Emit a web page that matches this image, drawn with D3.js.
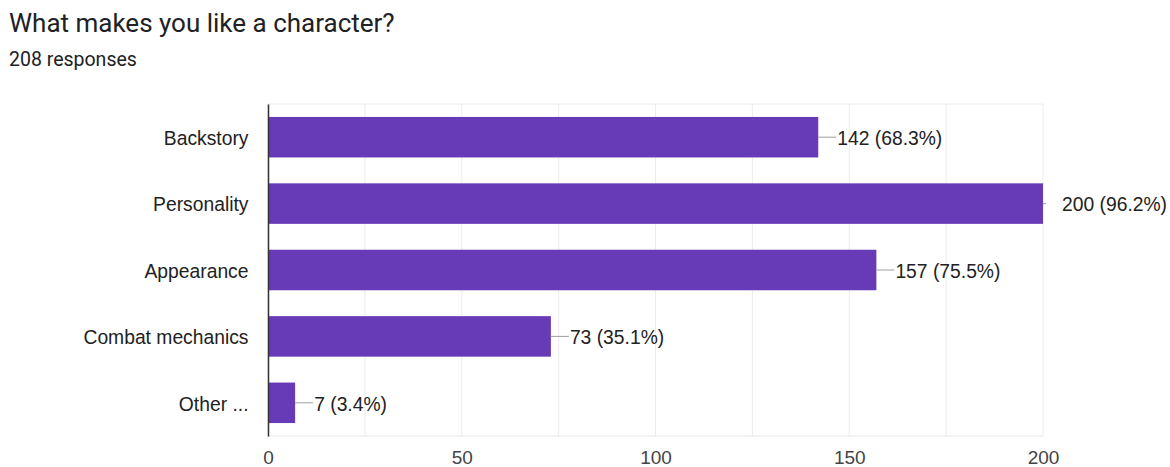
<!DOCTYPE html>
<html>
<head>
<meta charset="utf-8">
<script src="https://cdn.jsdelivr.net/npm/d3@7"></script>
<style>
  html, body { margin: 0; padding: 0; background: #fff; }
  svg { display: block; }
</style>
</head>
<body>
<svg id="chart" width="1170" height="467"></svg>
<script>
const categories = ["Backstory", "Personality", "Appearance", "Combat mechanics", "Other ..."];
const counts = [142, 200, 157, 73, 7];
const percents = ["68.3%", "96.2%", "75.5%", "35.1%", "3.4%"];
const xTicks = [0, 50, 100, 150, 200];
const xMinorTicks = [25, 75, 125, 175];

const svg = d3.select("#chart");
const W = 1170, H = 467;
const margin = { top: 104, right: 127, bottom: 31, left: 268 };
const innerW = W - margin.left - margin.right;
const innerH = H - margin.top - margin.bottom;
const labelFont = "'Liberation Sans', Arial, sans-serif";

// Heading
svg.append("text")
  .attr("x", 9).attr("y", 32)
  .attr("font-family", "Roboto, 'Open Sans', sans-serif")
  .attr("font-size", 26).attr("fill", "#202124")
  .text("What makes you like a character?");
svg.append("text")
  .attr("x", 9).attr("y", 65.5)
  .attr("font-family", "Roboto, 'Open Sans', sans-serif")
  .attr("font-size", 19.5).attr("fill", "#202124")
  .text("208 responses");

const x = d3.scaleLinear().domain([0, 200]).range([0, innerW]);
const y = d3.scaleBand().domain(categories).range([0, innerH]).paddingInner(0.39).paddingOuter(0.195);

const g = svg.append("g").attr("transform", `translate(${margin.left},${margin.top})`);

// Gridlines
g.selectAll(".grid")
  .data(xTicks.concat(xMinorTicks))
  .join("line")
  .attr("x1", d => x(d)).attr("x2", d => x(d))
  .attr("y1", 0).attr("y2", innerH)
  .attr("stroke", "#ececec").attr("stroke-width", 1);
g.append("line")
  .attr("x1", 0).attr("x2", innerW).attr("y1", 0).attr("y2", 0)
  .attr("stroke", "#ececec");
g.append("line")
  .attr("x1", 0).attr("x2", innerW).attr("y1", innerH).attr("y2", innerH)
  .attr("stroke", "#e6e6e6");

// Bars
g.selectAll(".bar")
  .data(counts)
  .join("rect")
  .attr("x", 0)
  .attr("y", (d, i) => y(categories[i]))
  .attr("width", d => x(d))
  .attr("height", y.bandwidth())
  .attr("fill", "#673ab7");

// Leader lines and value labels
g.selectAll(".leader")
  .data(counts)
  .join("line")
  .attr("x1", d => x(d))
  .attr("x2", d => Math.min(x(d) + 18, innerW + 3))
  .attr("y1", (d, i) => y(categories[i]) + y.bandwidth() / 2)
  .attr("y2", (d, i) => y(categories[i]) + y.bandwidth() / 2)
  .attr("stroke", "#9e9e9e").attr("stroke-width", 1);
g.selectAll(".val")
  .data(counts)
  .join("text")
  .attr("x", d => x(d) + 19)
  .attr("y", (d, i) => y(categories[i]) + y.bandwidth() / 2)
  .attr("dy", "0.4em")
  .attr("font-family", labelFont)
  .attr("font-size", 19.3).attr("fill", "#222")
  .text((d, i) => `${d} (${percents[i]})`);

// Category axis
const yAxis = g.append("g").call(d3.axisLeft(y).tickSize(0).tickPadding(19.5));
yAxis.select(".domain").attr("stroke", "#333").attr("stroke-width", 1.5);
yAxis.selectAll("text")
  .attr("dy", "0.4em")
  .attr("font-family", labelFont)
  .attr("font-size", 19.3).attr("fill", "#222");

// Value axis
const xAxis = g.append("g").attr("transform", `translate(0,${innerH})`)
  .call(d3.axisBottom(x).tickValues(xTicks).tickSize(0).tickPadding(15));
xAxis.select(".domain").remove();
xAxis.selectAll("text")
  .attr("font-family", labelFont)
  .attr("font-size", 19).attr("fill", "#444");
</script>
</body>
</html>
